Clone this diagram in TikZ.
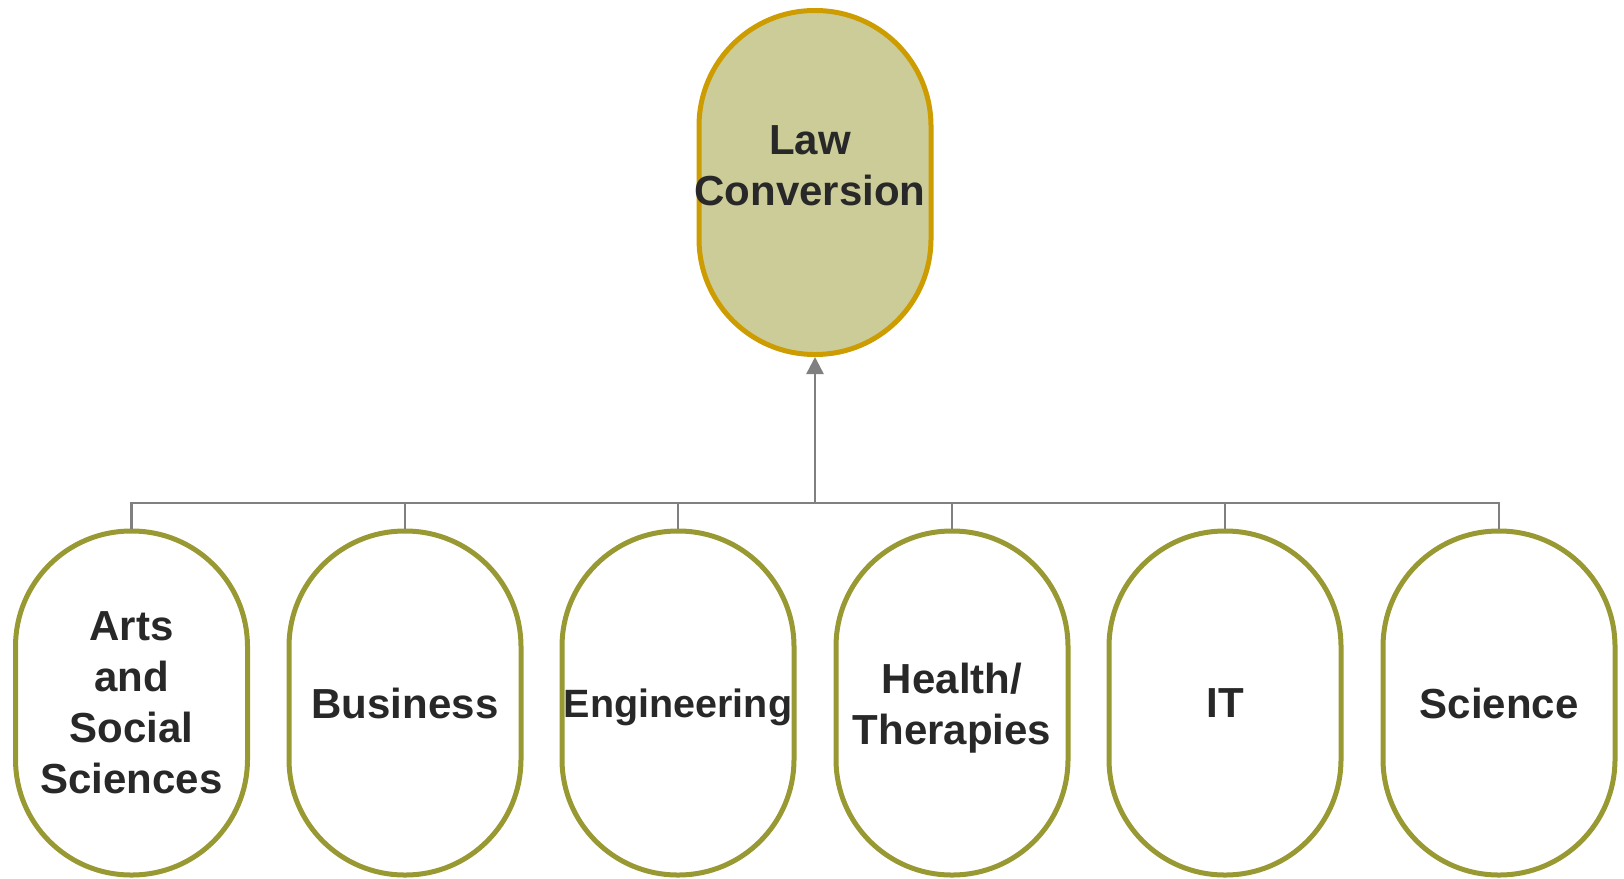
\documentclass[tikz,border=0pt]{standalone}
\usepackage{fontspec}
\setmainfont{Liberation Sans}
\usetikzlibrary{arrows.meta}
\definecolor{topfill}{RGB}{204,204,153}
\definecolor{topline}{RGB}{204,156,0}
\definecolor{leafline}{RGB}{153,153,51}
\definecolor{connline}{RGB}{128,128,128}
\definecolor{txt}{RGB}{40,40,40}
\begin{document}
\begin{tikzpicture}[x=1pt,y=-1pt,
  pill/.style={draw, rectangle, rounded corners=115.5pt, line width=5pt,
    minimum width=232pt, minimum height=344pt, inner sep=0pt},
  toppill/.style={pill, draw=topline, fill=topfill},
  leafpill/.style={pill, draw=leafline, fill=white, align=center,
    font=\fontsize{42}{51}\selectfont\bfseries, text=txt},
  lbl/.style={align=center, font=\fontsize{42}{51}\selectfont\bfseries, text=txt, inner sep=0pt},
  conn/.style={draw=connline, line width=2.5pt},
]
\useasboundingbox (0,0) rectangle (1624,878);
\node[toppill] (law) at (815,182.5) {};
\node[lbl] (lawtxt) at (810,166) {Law\\Conversion};

\node[leafpill] (c1) at (131.5,703) {Arts\\and\\Social\\Sciences};
\node[leafpill] (c2) at (405,703) {Business};
\node[leafpill, text depth=0pt, font=\fontsize{39.5}{51}\selectfont\bfseries] (c3) at (678,703) {Engineering};
\node[leafpill] (c4) at (952,703) {\rule{0pt}{41pt}Health/\\Therapies};
\node[leafpill] (c5) at (1225,703) {IT};
\node[leafpill] (c6) at (1499,703) {Science};

\coordinate (bus) at (815,503);
\foreach \c in {c1,c2,c3,c4,c5,c6}{
  \draw[conn] (\c.north) |- (bus);
}
\draw[conn, -{Triangle[width=17pt,length=17pt]}] (bus) -- (law.south);
\end{tikzpicture}
\end{document}
